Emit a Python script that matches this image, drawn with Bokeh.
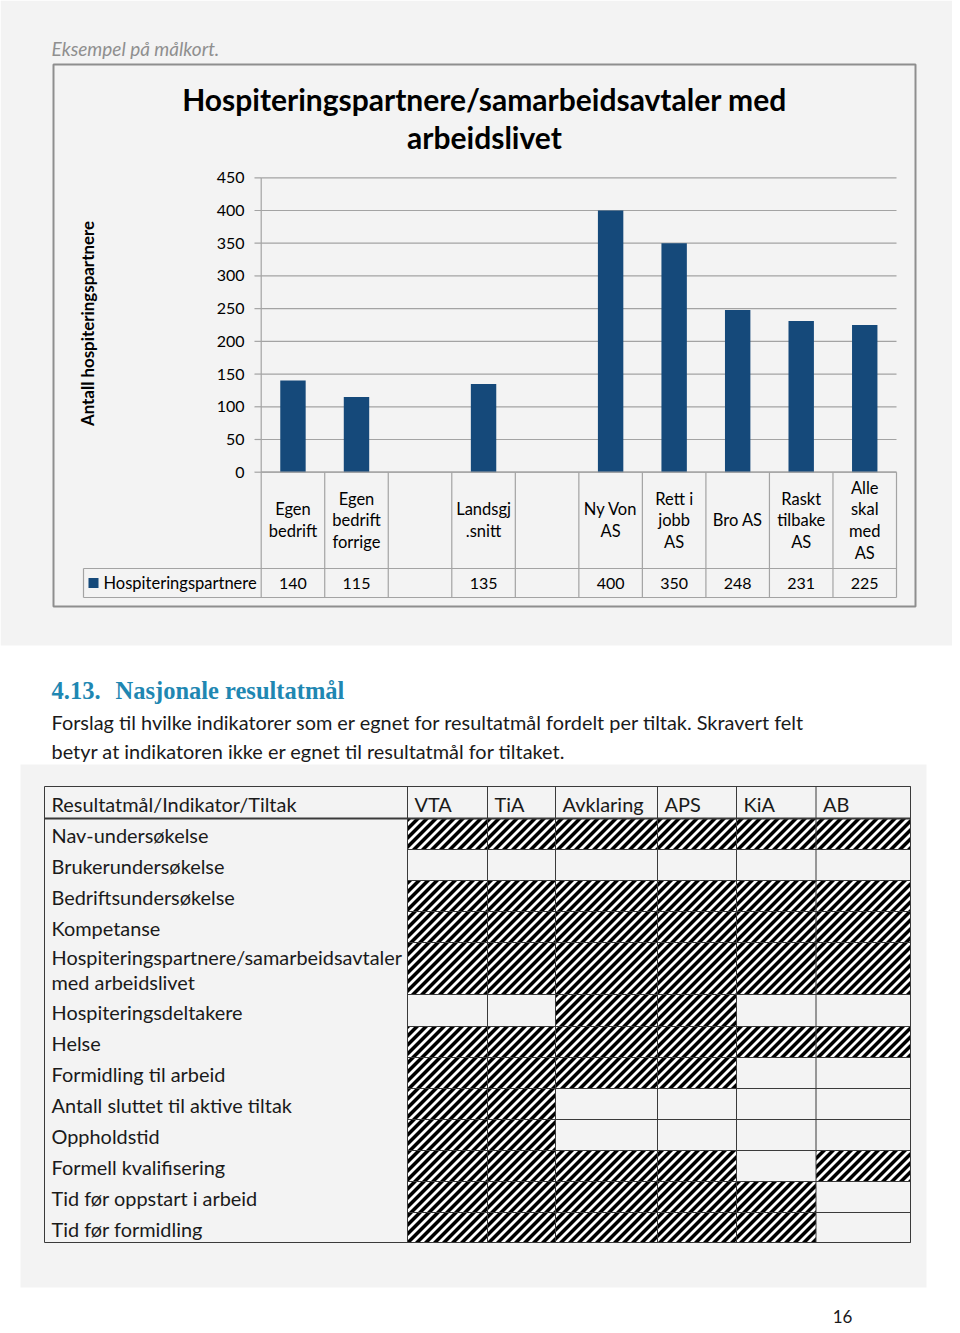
import math
from bokeh.plotting import figure
from bokeh.models import Range1d
from bokeh.core.properties import value
from bokeh.embed import file_html
from bokeh.resources import INLINE

# ---------------- data ----------------
caption = "Eksempel på målkort."
chart_title = ["Hospiteringspartnere/samarbeidsavtaler med", "arbeidslivet"]
y_title = "Antall hospiteringspartnere"
series_name = "Hospiteringspartnere"
categories = ["Egen\nbedrift", "Egen\nbedrift\nforrige", "", "Landsgj\n.snitt", "",
              "Ny Von\nAS", "Rett i\njobb\nAS", "Bro AS", "Raskt\ntilbake\nAS",
              "Alle\nskal\nmed\nAS"]
hosp_values = [140, 115, None, 135, None, 400, 350, 248, 231, 225]
y_ticks = [0, 50, 100, 150, 200, 250, 300, 350, 400, 450]

heading_num = "4.13."
heading_text = "Nasjonale resultatmål"
paragraph = ["Forslag til hvilke indikatorer som er egnet for resultatmål fordelt per tiltak. Skravert felt",
             "betyr at indikatoren ikke er egnet til resultatmål for tiltaket."]

table_header = "Resultatmål/Indikator/Tiltak"
table_columns = ["VTA", "TiA", "Avklaring", "APS", "KiA", "AB"]
table_rows = ["Nav-undersøkelse", "Brukerundersøkelse", "Bedriftsundersøkelse", "Kompetanse",
              "Hospiteringspartnere/samarbeidsavtaler\nmed arbeidslivet", "Hospiteringsdeltakere",
              "Helse", "Formidling til arbeid", "Antall sluttet til aktive tiltak", "Oppholdstid",
              "Formell kvalifisering", "Tid før oppstart i arbeid", "Tid før formidling"]
# 1 = skravert (not suitable), 0 = blank
hatched = [
    [1, 1, 1, 1, 1, 1],
    [0, 0, 0, 0, 0, 0],
    [1, 1, 1, 1, 1, 1],
    [1, 1, 1, 1, 1, 1],
    [1, 1, 1, 1, 1, 1],
    [0, 0, 1, 1, 0, 0],
    [1, 1, 1, 1, 1, 1],
    [1, 1, 1, 1, 0, 0],
    [1, 1, 0, 0, 0, 0],
    [1, 1, 0, 0, 0, 0],
    [1, 1, 1, 1, 0, 1],
    [1, 1, 1, 1, 1, 0],
    [1, 1, 1, 1, 1, 0],
]
page_number = "16"

# ---------------- layout / style ----------------
FONT = "Lato"
SERIF = "Liberation Serif"
BAR = "#15497a"
GRAY_BG = "#f3f3f3"
GRID = "#a3a3a3"
TBL_LINE = "#3a3a3a"
TXT = "#1a1a1a"

W, H = 952, 1327

p = figure(width=W, height=H, x_range=Range1d(0, W), y_range=Range1d(H, 0),
           output_backend="svg", toolbar_location=None, tools="", min_border=0,
           x_axis_location=None, y_axis_location=None,
           background_fill_color="white", border_fill_color="white", outline_line_color=None)
p.xgrid.visible = False
p.ygrid.visible = False

# chart plot-area geometry (page pixels)
CH_L, CH_R = 260.7, 896.0
ZERO_PX, TOP_PX = 471.7, 177.3
ncat = len(categories)
sx = (CH_R - CH_L) / ncat
sy = (ZERO_PX - TOP_PX) / y_ticks[-1]
p.extra_x_ranges = {"cat": Range1d((0 - CH_L) / sx, (W - CH_L) / sx)}
p.extra_y_ranges = {"val": Range1d((ZERO_PX - H) / sy, (ZERO_PX - 0) / sy)}


def txt(x, y, s, size, style="normal", color="#000000", align="left", font=FONT, angle=0.0, **kw):
    ss = s if isinstance(s, list) else [s]
    n = len(ss)
    xs = x if isinstance(x, list) else [x] * n
    ys = y if isinstance(y, list) else [y] * n
    p.text(x=xs, y=ys, text=ss, text_font=value(font), text_font_size=f"{size}px",
           text_font_style=style, text_color=color, text_align=align, text_baseline="middle",
           angle=angle, **kw)


# backgrounds
p.quad(left=0, right=W, top=0, bottom=645, fill_color=GRAY_BG, line_color=None)
p.quad(left=20, right=926, top=764, bottom=1287, fill_color=GRAY_BG, line_color=None)

# caption
txt(51, 48, caption, 19, style="italic", color="#8f8f8f")

# chart box
p.quad(left=53, right=915, top=64, bottom=606, fill_color=None, line_color="#8e8e8e", line_width=2)

# chart title
txt(484, 98, chart_title[0], 30, style="bold", align="center")
txt(484, 136, chart_title[1], 30, style="bold", align="center")

# y axis title
txt(87, 323, y_title, 16.9, style="bold", align="center", angle=math.pi / 2)

# grid lines, ticks, tick labels
nt = len(y_ticks)
p.segment(x0=[CH_L] * nt, x1=[CH_R] * nt, y0=y_ticks, y1=y_ticks,
          y_range_name="val", line_color=GRID, line_width=1.2)
p.segment(x0=[254] * nt, x1=[CH_L] * nt, y0=y_ticks, y1=y_ticks,
          y_range_name="val", line_color=GRID, line_width=1.2)
p.segment(x0=[CH_L], x1=[CH_L], y0=[0], y1=[y_ticks[-1]], y_range_name="val",
          line_color=GRID, line_width=1.2)
txt([244] * nt, y_ticks, [str(t) for t in y_ticks], 16, align="right", y_range_name="val")

# bars
bx = [i + 0.5 for i, v in enumerate(hosp_values) if v is not None]
bv = [v for v in hosp_values if v is not None]
p.vbar(x=bx, top=bv, bottom=0, width=0.4, x_range_name="cat", y_range_name="val",
       fill_color=BAR, line_color=None)

# data table under chart
ROW1_B, ROW2_B = 568.0, 597.0
p.segment(x0=[CH_L, 83, 83], x1=[CH_R, CH_R, CH_R], y0=[ZERO_PX, ROW1_B, ROW2_B],
          y1=[ZERO_PX, ROW1_B, ROW2_B], line_color=GRID, line_width=1.2)
edges = list(range(ncat + 1))
p.segment(x0=edges, x1=edges, y0=[ZERO_PX] * len(edges), y1=[ROW2_B] * len(edges),
          x_range_name="cat", line_color=GRID, line_width=1.2)
p.segment(x0=[83], x1=[83], y0=[ROW1_B], y1=[ROW2_B], line_color=GRID, line_width=1.2)

lx, ly, lt = [], [], []
LINE_H = 21.8
mid = (ZERO_PX + ROW1_B) / 2
for i, c in enumerate(categories):
    if not c:
        continue
    lines = c.split("\n")
    n = len(lines)
    for j, s in enumerate(lines):
        lx.append(i + 0.5)
        ly.append(mid + (j - (n - 1) / 2) * LINE_H)
        lt.append(s)
txt(lx, ly, lt, 16.5, align="center", x_range_name="cat")

rowmid = (ROW1_B + ROW2_B) / 2
vx = [i + 0.5 for i, v in enumerate(hosp_values) if v is not None]
vt = [str(v) for v in hosp_values if v is not None]
txt(vx, [rowmid] * len(vx), vt, 16, align="center", x_range_name="cat")
p.scatter(x=[93], y=[rowmid], marker="square", size=10, fill_color=BAR, line_color=None)
txt(103, rowmid, series_name, 16.5)

# heading and paragraph
txt(51, 690, heading_num, 24.5, style="bold", color="#1f87b2", font=SERIF)
txt(115, 690, heading_text, 24.5, style="bold", color="#1f87b2", font=SERIF)
txt(51, 721, paragraph[0], 19.9, color=TXT)
txt(51, 750, paragraph[1], 19.9, color=TXT)

# indicator table
COL_EDGES = [44, 407, 487, 555, 657, 736, 815.5, 910]
ROW_EDGES = [786, 818, 849, 880, 911, 942, 994, 1026, 1057, 1088, 1119, 1150, 1181, 1212, 1242]


def clip(poly, f):
    out = []
    n = len(poly)
    for i in range(n):
        a, b = poly[i], poly[(i + 1) % n]
        fa, fb = f(a), f(b)
        if fa >= 0:
            out.append(a)
        if (fa >= 0) != (fb >= 0):
            t = fa / (fa - fb)
            out.append((a[0] + t * (b[0] - a[0]), a[1] + t * (b[1] - a[1])))
    return out


PERIOD, BLACK = 9.0, 5.0
px_list, py_list = [], []
cell_l, cell_r, cell_t, cell_b = [], [], [], []
for r, row in enumerate(hatched):
    for c, h in enumerate(row):
        if not h:
            continue
        L, R = COL_EDGES[c + 1], COL_EDGES[c + 2]
        T, B = ROW_EDGES[r + 1], ROW_EDGES[r + 2]
        cell_l.append(L); cell_r.append(R); cell_t.append(T); cell_b.append(B)
        rect = [(L, T), (R, T), (R, B), (L, B)]
        k = math.floor((L + T) / PERIOD) * PERIOD
        while k < R + B:
            k1, k2 = k, k + BLACK
            poly = clip(rect, lambda q, k1=k1: q[0] + q[1] - k1)
            if poly:
                poly = clip(poly, lambda q, k2=k2: k2 - (q[0] + q[1]))
            if len(poly) >= 3:
                px_list.append([q[0] for q in poly])
                py_list.append([q[1] for q in poly])
            k += PERIOD

p.quad(left=cell_l, right=cell_r, top=cell_t, bottom=cell_b, fill_color="white", line_color=None)
p.patches(xs=px_list, ys=py_list, fill_color="black", line_color=None)

# table lines
nr = len(ROW_EDGES)
p.segment(x0=[COL_EDGES[1]] * nr, x1=[COL_EDGES[-1]] * nr,
          y0=ROW_EDGES, y1=ROW_EDGES, line_color=TBL_LINE, line_width=1)
p.segment(x0=[COL_EDGES[0]] * 3, x1=[COL_EDGES[-1]] * 3,
          y0=[ROW_EDGES[0], ROW_EDGES[1], ROW_EDGES[-1]],
          y1=[ROW_EDGES[0], ROW_EDGES[1], ROW_EDGES[-1]], line_color=TBL_LINE, line_width=[1, 2, 1])
nc = len(COL_EDGES)
p.segment(x0=COL_EDGES, x1=COL_EDGES, y0=[ROW_EDGES[0]] * nc,
          y1=[ROW_EDGES[-1]] * nc, line_color=TBL_LINE, line_width=1)

# table texts
TS = 19.9
hm = (ROW_EDGES[0] + ROW_EDGES[1]) / 2 + 1
txt(51, hm, table_header, TS, color=TXT)
txt([COL_EDGES[c + 1] + 7 for c in range(len(table_columns))],
    [hm] * len(table_columns), table_columns, TS, color=TXT)
rx, ry, rt = [], [], []
for r, name in enumerate(table_rows):
    lines = name.split("\n")
    m = (ROW_EDGES[r + 1] + ROW_EDGES[r + 2]) / 2
    n = len(lines)
    for j, s in enumerate(lines):
        rx.append(51)
        ry.append(m + (j - (n - 1) / 2) * 25 + 1)
        rt.append(s)
txt(rx, ry, rt, TS, color=TXT)

# page number
txt(842, 1316, page_number, 17, align="center", color=TXT)

open("out.html", "w").write(file_html(p, INLINE))
